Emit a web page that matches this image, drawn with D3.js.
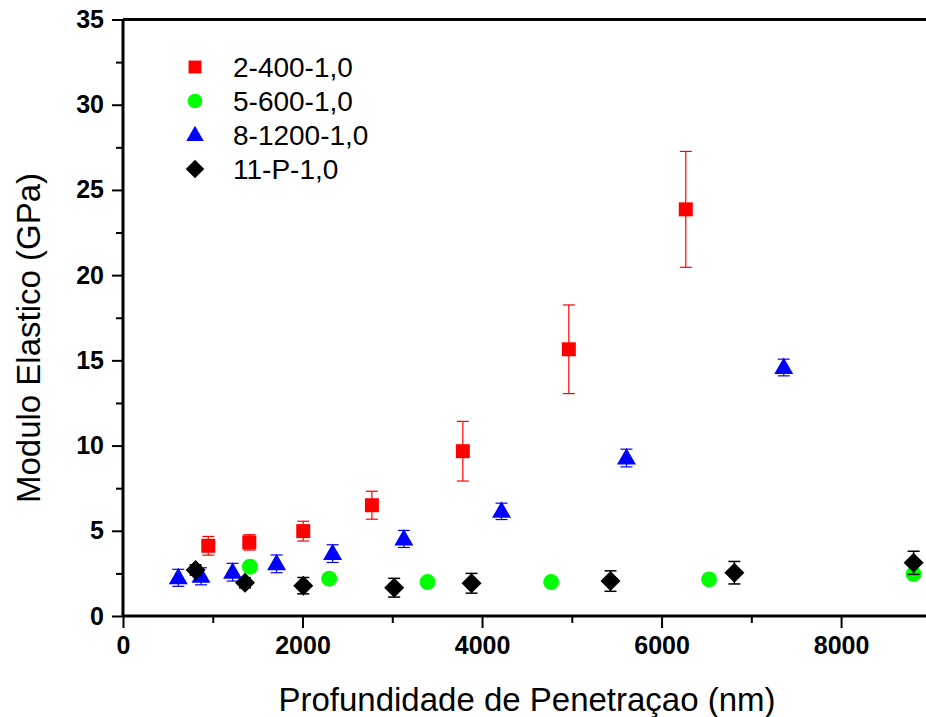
<!DOCTYPE html>
<html>
<head>
<meta charset="utf-8">
<script src="https://cdn.jsdelivr.net/npm/d3@7"></script>
<style>
  body { margin: 0; background: #fff; }
  svg { display: block; font-family: "Liberation Sans", Arial, sans-serif; }
</style>
</head>
<body>
<svg></svg>
<script>
// series names (legend order)
let seriesNames = ["2-400-1,0", "5-600-1,0", "8-1200-1,0", "11-P-1,0"]

// 2-400-1,0 (red squares)
let redX = [950, 1407, 2008, 2773, 3786, 4967, 6270]
let redY = [4.12, 4.32, 4.98, 6.5, 9.67, 15.65, 23.86]
let redErr = [0.55, 0.45, 0.58, 0.82, 1.75, 2.6, 3.4]

// 5-600-1,0 (green circles)
let greenX = [1414, 2297, 3393, 4770, 6529, 8808]
let greenY = [2.89, 2.19, 1.99, 1.99, 2.15, 2.46]

// 8-1200-1,0 (blue triangles)
let blueX = [616, 869, 1221, 1711, 2335, 3129, 4217, 5609, 7361]
let blueY = [2.24, 2.33, 2.57, 3.06, 3.66, 4.52, 6.14, 9.27, 14.58]
let blueErr = [0.5, 0.5, 0.52, 0.52, 0.52, 0.5, 0.48, 0.52, 0.49]

// 11-P-1,0 (black diamonds)
let blackX = [809, 1359, 2008, 3021, 3883, 5431, 6811, 8808]
let blackY = [2.7, 1.95, 1.78, 1.66, 1.92, 2.05, 2.54, 3.12]
let blackErr = [0.3, 0.3, 0.48, 0.55, 0.58, 0.6, 0.66, 0.68]

// axis ticks
let xTicks = [0, 2000, 4000, 6000, 8000]
let yTicks = [0, 5, 10, 15, 20, 25, 30, 35]

let width = 926
let height = 717
let plotLeft = 123
let plotTop = 19.5
let plotBottom = 616

let svg = d3.select("svg").attr("width", width).attr("height", height)

let xScale = d3.scaleLinear().domain([0, 9000]).range([plotLeft, plotLeft + 9000 * 0.08976])
let yScale = d3.scaleLinear().domain([0, 35]).range([plotBottom, plotTop])

// marker shapes (origin style)
let triSym = {
    draw: (ctx, size) => {
        let r = Math.sqrt(size)
        ctx.moveTo(0, -r)
        ctx.lineTo(r * 0.95, r * 0.65)
        ctx.lineTo(-r * 0.95, r * 0.65)
        ctx.closePath()
    }
}
let diaSym = {
    draw: (ctx, size) => {
        let r = Math.sqrt(size)
        ctx.moveTo(0, -r)
        ctx.lineTo(r, 0)
        ctx.lineTo(0, r)
        ctx.lineTo(-r, 0)
        ctx.closePath()
    }
}

let series = [
    { name: seriesNames[0], x: redX, y: redY, err: redErr, color: "#ff0000", sym: d3.symbolSquare, size: 196, errW: 1.2 },
    { name: seriesNames[1], x: greenX, y: greenY, err: null, color: "#00ff00", sym: d3.symbolCircle, size: 200, errW: 1.2 },
    { name: seriesNames[2], x: blueX, y: blueY, err: blueErr, color: "#0000ff", sym: triSym, size: 100, errW: 1.2 },
    { name: seriesNames[3], x: blackX, y: blackY, err: blackErr, color: "#000000", sym: diaSym, size: 100, errW: 1.5 }
]

// axes
let drawAxes = () => {
    let xAxis = d3.axisBottom(xScale).tickValues(xTicks).tickSize(12).tickPadding(8).tickFormat(d3.format("d"))
    let xMinor = d3.axisBottom(xScale).tickValues([1000, 3000, 5000, 7000, 9000]).tickSize(7).tickFormat("")
    let yAxis = d3.axisLeft(yScale).tickValues(yTicks).tickSize(11).tickPadding(8)
    let yMinor = d3.axisLeft(yScale).tickValues(d3.range(2.5, 35, 5)).tickSize(7).tickFormat("")

    svg.append("g").attr("transform", "translate(0," + plotBottom + ")").call(xAxis)
    svg.append("g").attr("transform", "translate(0," + plotBottom + ")").call(xMinor)
    svg.append("g").attr("transform", "translate(" + plotLeft + ",0)").call(yAxis)
    svg.append("g").attr("transform", "translate(" + plotLeft + ",0)").call(yMinor)

    svg.selectAll(".domain").remove()
    svg.selectAll(".tick line").attr("stroke", "#000").attr("stroke-width", 2)
    svg.selectAll(".tick text")
        .attr("fill", "#000")
        .style("font-size", "25px")
        .style("font-weight", "bold")
        .style("font-family", "Liberation Sans, Arial, sans-serif")

    // frame lines
    svg.append("line").attr("x1", plotLeft).attr("x2", width).attr("y1", plotBottom).attr("y2", plotBottom)
        .attr("stroke", "#000").attr("stroke-width", 3)
    svg.append("line").attr("x1", plotLeft).attr("x2", plotLeft).attr("y1", plotTop).attr("y2", plotBottom)
        .attr("stroke", "#000").attr("stroke-width", 3)
    svg.append("line").attr("x1", plotLeft).attr("x2", width).attr("y1", plotTop).attr("y2", plotTop)
        .attr("stroke", "#000").attr("stroke-width", 3)

    svg.append("text")
        .attr("x", 527).attr("y", 711)
        .attr("text-anchor", "middle")
        .style("font-size", "33px")
        .text("Profundidade de Penetraçao (nm)")

    svg.append("text")
        .attr("transform", "translate(40,338) rotate(-90)")
        .attr("text-anchor", "middle")
        .style("font-size", "33px")
        .text("Modulo Elastico (GPa)")
}

let drawSeries = () => {
    series.forEach(s => {
        let pts = s.x.map((xv, i) => ({ x: xv, y: s.y[i], e: s.err ? s.err[i] : 0 }))
        let g = svg.append("g")
        if (s.err) {
            let eb = g.selectAll(".eb").data(pts).enter().append("g")
                .attr("stroke", s.color).attr("stroke-width", s.errW)
            eb.append("line")
                .attr("x1", d => xScale(d.x)).attr("x2", d => xScale(d.x))
                .attr("y1", d => yScale(d.y + d.e)).attr("y2", d => yScale(d.y - d.e))
            eb.append("line")
                .attr("x1", d => xScale(d.x) - 6).attr("x2", d => xScale(d.x) + 6)
                .attr("y1", d => yScale(d.y + d.e)).attr("y2", d => yScale(d.y + d.e))
            eb.append("line")
                .attr("x1", d => xScale(d.x) - 6).attr("x2", d => xScale(d.x) + 6)
                .attr("y1", d => yScale(d.y - d.e)).attr("y2", d => yScale(d.y - d.e))
        }
        g.selectAll("path").data(pts).enter().append("path")
            .attr("d", d3.symbol().type(s.sym).size(s.size))
            .attr("transform", d => "translate(" + xScale(d.x) + "," + yScale(d.y) + ")")
            .attr("fill", s.color)
    })
}

let drawLegend = () => {
    let legY = d3.scalePoint().domain(seriesNames).range([67, 169])
    let lg = svg.append("g")
    series.forEach(s => {
        lg.append("path")
            .attr("d", d3.symbol().type(s.sym).size(s.size * 0.85))
            .attr("transform", "translate(195," + legY(s.name) + ")")
            .attr("fill", s.color)
        lg.append("text")
            .attr("x", 233).attr("y", legY(s.name) + 10)
            .style("font-size", "28px")
            .text(s.name)
    })
}

drawAxes()
drawSeries()
drawLegend()
</script>
</body>
</html>
